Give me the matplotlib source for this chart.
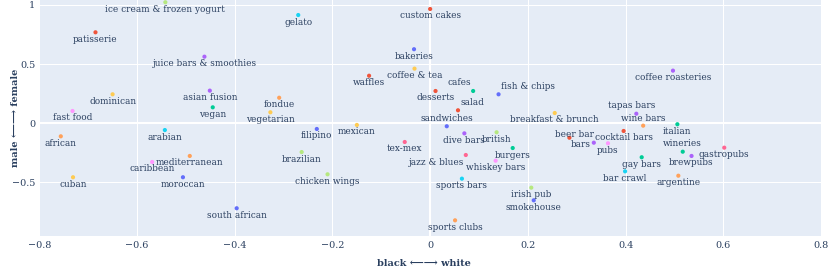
import matplotlib.pyplot as plt

# cuisine / venue categories and their position on the two axes
names = ['ice cream & frozen yogurt', 'gelato', 'custom cakes', 'patisserie', 'bakeries',
         'juice bars & smoothies', 'coffee & tea', 'waffles', 'cafes', 'fish & chips',
         'desserts', 'salad', 'coffee roasteries', 'dominican', 'asian fusion',
         'fondue', 'vegan', 'vegetarian', 'fast food', 'sandwiches',
         'breakfast & brunch', 'tapas bars', 'wine bars', 'italian', 'arabian',
         'filipino', 'mexican', 'african', 'tex-mex', 'dive bars',
         'british', 'beer bar', 'cocktail bars', 'bars', 'pubs',
         'burgers', 'wineries', 'gastropubs', 'brewpubs', 'mediterranean',
         'caribbean', 'jazz & blues', 'whiskey bars', 'gay bars', 'brazilian',
         'bar crawl', 'argentine', 'cuban', 'moroccan', 'chicken wings',
         'sports bars', 'irish pub', 'smokehouse', 'south african', 'sports clubs']
race = [-0.542, -0.270, 0.000, -0.685, -0.033,
        -0.462, -0.032, -0.125, 0.088, 0.140,
        0.011, 0.057, 0.497, -0.650, -0.451,
        -0.309, -0.445, -0.327, -0.732, 0.034,
        0.255, 0.422, 0.436, 0.506, -0.543,
        -0.232, -0.150, -0.756, -0.052, 0.070,
        0.136, 0.285, 0.396, 0.335, 0.364,
        0.169, 0.517, 0.602, 0.535, -0.492,
        -0.569, 0.073, 0.134, 0.433, -0.263,
        0.399, 0.508, -0.731, -0.506, -0.210,
        0.065, 0.207, 0.212, -0.396, 0.051]
gender = [1.023, 0.915, 0.966, 0.769, 0.626,
          0.563, 0.462, 0.402, 0.273, 0.245,
          0.273, 0.110, 0.445, 0.245, 0.276,
          0.216, 0.135, 0.093, 0.104, -0.025,
          0.087, 0.081, -0.020, -0.008, -0.057,
          -0.048, -0.014, -0.110, -0.158, -0.085,
          -0.076, -0.122, -0.065, -0.164, -0.169,
          -0.209, -0.240, -0.206, -0.276, -0.276,
          -0.327, -0.268, -0.316, -0.287, -0.243,
          -0.406, -0.443, -0.456, -0.456, -0.431,
          -0.468, -0.544, -0.651, -0.718, -0.820]

xticks = [-0.8, -0.6, -0.4, -0.2, 0, 0.2, 0.4, 0.6, 0.8]
xtick_labels = ['\u22120.8', '\u22120.6', '\u22120.4', '\u22120.2', '0', '0.2', '0.4', '0.6', '0.8']
yticks = [-0.5, 0, 0.5, 1]
ytick_labels = ['\u22120.5', '0', '0.5', '1']

# plotly default colours
blue, red, green, purple = '#636EFA', '#EF553B', '#00CC96', '#AB63FA'
orange, cyan, pink, lgreen, lpink, yellow = '#FFA15A', '#19D3F3', '#FF6692', '#B6E880', '#FF97FF', '#FECB52'
colors = [lgreen, cyan, red, red, blue,
          purple, yellow, red, green, blue,
          red, red, purple, yellow, purple,
          orange, green, yellow, lpink, blue,
          yellow, purple, orange, green, cyan,
          blue, yellow, orange, pink, purple,
          lgreen, red, red, purple, lpink,
          green, green, pink, purple, orange,
          lpink, pink, lpink, green, lgreen,
          cyan, orange, yellow, blue, lgreen,
          cyan, lgreen, blue, blue, orange]

# label placement: default is centred just under the point (pixels: dx right, dy down)
default_off = (0, 7, 'center')
label_off = {
    'cafes': (-2, -8, 'right'),
    'fish & chips': (2.7, -8, 'left'),
    'salad': (2.7, -8, 'left'),
    'sandwiches': (0, -7.6, 'center'),
    'tapas bars': (-4.3, -8, 'center'),
    'wine bars': (0, -7.4, 'center'),
    'beer bar': (5, -3.4, 'center'),
    'bars': (-3.3, 1.6, 'right'),
    'wineries': (0, -8, 'center'),
    'jazz & blues': (-2, 7.7, 'right'),
}

txt = '#2a3f5f'
plt.rcParams['font.family'] = ['DejaVu Serif', 'DejaVu Sans']

fig = plt.figure(figsize=(8.3, 2.71), dpi=100)
ax = fig.add_axes([39.3 / 830, 35.3 / 271, (821 - 39.3) / 830, 235.7 / 271])
ax.set_facecolor('#E5ECF6')
for s in ax.spines.values():
    s.set_visible(False)

for v in xticks:
    ax.axvline(v, color='white', lw=0.75 if v != 0 else 1.5, zorder=0)
for v in yticks:
    ax.axhline(v, color='white', lw=0.75 if v != 0 else 1.5, zorder=0)

ax.scatter(race, gender, s=9, c=colors, linewidths=0, zorder=3)

for i in range(len(names)):
    dx, dy, ha = label_off.get(names[i], default_off)
    ax.annotate(names[i], (race[i], gender[i]), xytext=(dx * 0.72, -dy * 0.72),
                textcoords='offset points', ha=ha, va='center',
                fontsize=6.4, color=txt, zorder=4)

ax.set_xlim(-0.8, 0.8)
ax.set_ylim(-0.950, 1.042)
ax.set_xticks(xticks)
ax.set_xticklabels(xtick_labels)
ax.set_yticks(yticks)
ax.set_yticklabels(ytick_labels)
ax.tick_params(length=0, labelsize=6.9, labelcolor=txt)
ax.tick_params(axis='x', pad=4)
ax.tick_params(axis='y', pad=3)

fig.text(424 / 830, 1 - 264 / 271, 'black \u27f5\u27f6 white', fontsize=7, fontweight='bold',
         color=txt, ha='center', va='center')
fig.text(15 / 830, 1 - 118 / 271, 'male \u27f5\u27f6 female', fontsize=7, fontweight='bold',
         color=txt, ha='center', va='center', rotation=90)

fig.savefig('out.png', dpi=100)
